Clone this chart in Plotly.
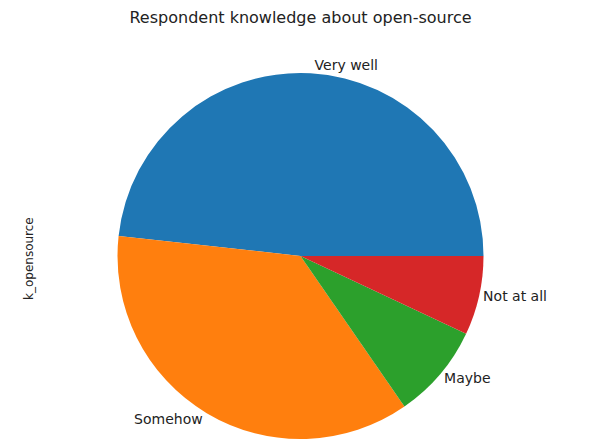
import plotly.graph_objects as go

categories = ["Very well", "Somehow", "Maybe", "Not at all"]
counts = [69, 52, 12, 10]
colors = ["#1f77b4", "#ff7f0e", "#2ca02c", "#d62728"]

# the page body has an 8px margin, so the figure fills the visible area minus it
OFF = 8
W, H = 594 - OFF, 443 - OFF
cx, cy, r = 300.5 - OFF, 256 - OFF, 183

# plotly's counterclockwise pies end the first slice at `rotation`;
# shift so the first slice starts at 3 o'clock like matplotlib's default
start_rotation = 90 - 360 * counts[0] / sum(counts)

fig = go.Figure(go.Pie(
    labels=categories,
    values=counts,
    sort=False,
    direction="counterclockwise",
    rotation=start_rotation,
    marker=dict(colors=colors, line=dict(width=0)),
    textinfo="label",
    textposition="outside",
    textfont=dict(family="DejaVu Sans", size=14, color="#222222"),
    hoverinfo="label+value+percent",
    showlegend=False,
    domain=dict(x=[(cx - r) / W, (cx + r) / W], y=[(H - cy - r) / H, (H - cy + r) / H]),
))

fig.update_layout(
    width=W, height=H,
    margin=dict(l=0, r=0, t=0, b=0),
    paper_bgcolor="white",
    plot_bgcolor="white",
    title=dict(text="Respondent knowledge about open-source", x=(300.5 - OFF) / W, xanchor="center",
               y=1, yanchor="top", pad=dict(t=4),
               font=dict(family="DejaVu Sans", size=16, color="#222222")),
    annotations=[dict(text="k_opensource", x=(20 - OFF) / W, y=1 - (259 - OFF) / H,
                      xref="paper", yref="paper",
                      showarrow=False, textangle=-90,
                      font=dict(family="DejaVu Sans", size=12, color="#222222"))],
)

fig.write_html("out.html")
